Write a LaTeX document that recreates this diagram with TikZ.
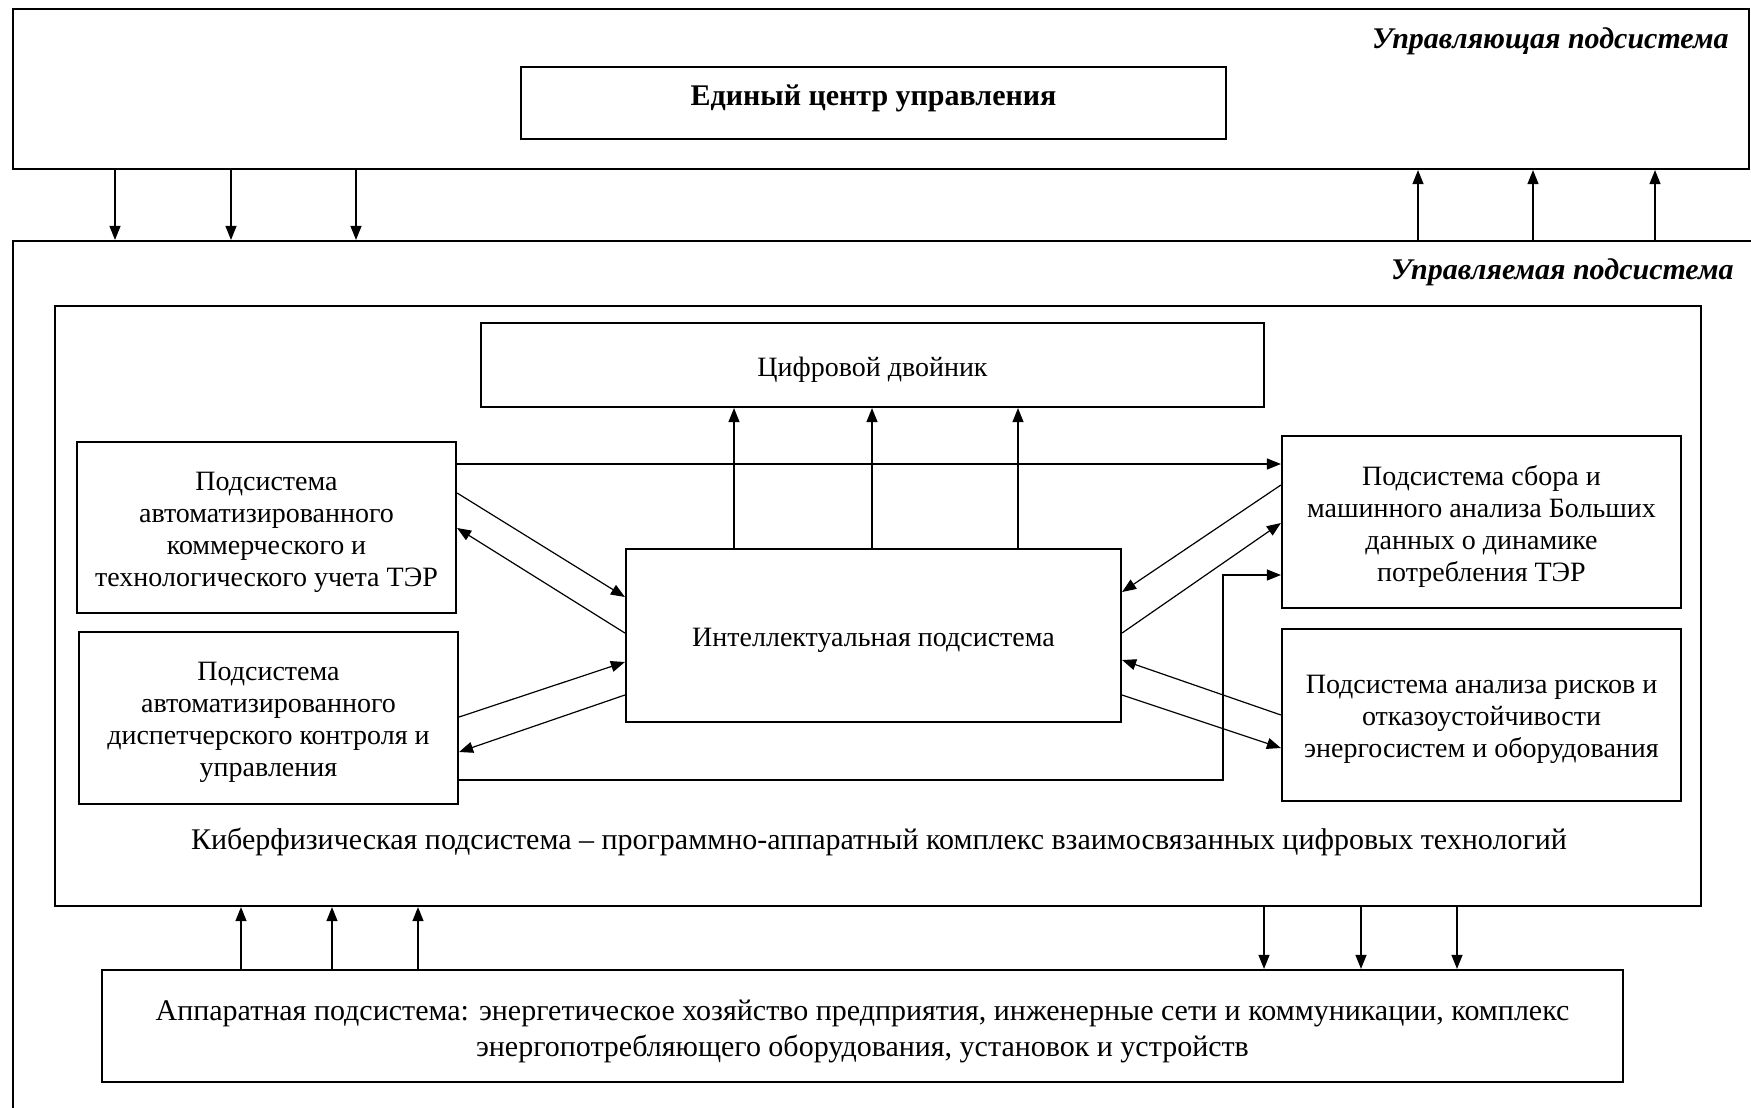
\documentclass[tikz,border=0pt]{standalone}
\usepackage{fontspec}
\setmainfont{Liberation Serif}
\usetikzlibrary{arrows.meta}
\newcommand\tup[1][14pt]{\rule{0pt}{#1}}
\newcommand\tdn{\rule[-8pt]{0pt}{8pt}}
\begin{document}
\begin{tikzpicture}[x=0.5pt,y=-0.5pt,
  box/.style={draw, line width=1.1pt, rectangle, inner sep=0pt, align=center, font=\fontsize{14}{16}\selectfont},
  arr/.style={line width=0.6pt, -{Triangle[length=7pt,width=5.5pt]}},
  lbl/.style={font=\fontsize{15}{18}\selectfont\bfseries\itshape, inner sep=0pt, anchor=east},
  txt/.style={font=\fontsize{15}{18}\selectfont, inner sep=0pt, align=center}]
\useasboundingbox (0,0) rectangle (1751,1108);
\clip (0,0) rectangle (1751,1108);
\fill[white] (0,0) rectangle (1751,1108);

% control subsystem
\node[box, minimum width=868pt, minimum height=80pt] (top) at (881,89) {};
\node[box, minimum width=352.5pt, minimum height=36pt, font=\fontsize{15}{18}\selectfont\bfseries] (ecu) at (873.5,103) {Единый центр управления\tdn};
\node[lbl] (lbl1) at (1729,41) {Управляющая подсистема};

% controlled subsystem
\node[box, minimum width=878.5pt, minimum height=444.5pt] (ctrl) at (891.5,685.5) {};
\node[lbl] (lbl2) at (1734,272) {Управляемая подсистема};

% cyber-physical
\node[box, minimum width=823pt, minimum height=300pt] (cyber) at (878,606) {};
\node[txt] (cybertxt) at (879,842) {Киберфизическая подсистема – программно-аппаратный комплекс взаимосвязанных цифровых технологий};

\node[box, minimum width=391.5pt, minimum height=42pt] (twin) at (872.5,365) {\tup Цифровой двойник};
\node[box, minimum width=189.5pt, minimum height=85.5pt] (lb1) at (266.5,527.5) {\tup Подсистема\\автоматизированного\\коммерческого и\\технологического учета ТЭР};
\node[box, minimum width=189.5pt, minimum height=86pt] (lb2) at (268.5,718) {\tup Подсистема\\автоматизированного\\диспетчерского контроля и\\управления};
\node[box, minimum width=247.5pt, minimum height=86.5pt] (intel) at (873.5,635.5) {\tup Интеллектуальная подсистема};
\node[box, minimum width=199.5pt, minimum height=86pt] (rb1) at (1481.5,522) {\tup Подсистема сбора и\\машинного анализа Больших\\данных о динамике\\потребления ТЭР};
\node[box, minimum width=199.5pt, minimum height=86pt] (rb2) at (1481.5,715) {\tup Подсистема анализа рисков и\\отказоустойчивости\\энергосистем и оборудования};

% hardware
\node[box, minimum width=760.5pt, minimum height=56pt, font=\fontsize{15}{17.9}\selectfont] (hw) at (862.5,1026) {\tup[15.5pt]Аппаратная подсистема: энергетическое хозяйство предприятия, инженерные сети и коммуникации, комплекс\\энергопотребляющего оборудования, установок и устройств};

% x positions of vertical connectors
\coordinate (d1) at (115,0);
\coordinate (d2) at (231,0);
\coordinate (d3) at (356,0);
\coordinate (u1) at (1418,0);
\coordinate (u2) at (1533,0);
\coordinate (u3) at (1655,0);
\coordinate (t1) at (734,0);
\coordinate (t2) at (872,0);
\coordinate (t3) at (1018,0);
\coordinate (h1) at (241,0);
\coordinate (h2) at (332,0);
\coordinate (h3) at (418,0);
\coordinate (g1) at (1264,0);
\coordinate (g2) at (1361,0);
\coordinate (g3) at (1457,0);
\coordinate (bend) at (1223,575);

% top <-> controlled
\foreach \c in {d1,d2,d3} \draw[arr] (top.south -| \c) -- (ctrl.north -| \c);
\foreach \c in {u1,u2,u3} \draw[arr] (ctrl.north -| \c) -- (top.south -| \c);

% intel -> twin
\foreach \c in {t1,t2,t3} \draw[arr] (intel.north -| \c) -- (twin.south -| \c);

% hardware <-> cyber
\foreach \c in {h1,h2,h3} \draw[arr] (hw.north -| \c) -- (cyber.south -| \c);
\foreach \c in {g1,g2,g3} \draw[arr] (cyber.south -| \c) -- (hw.north -| \c);

% horizontal lb1 -> rb1
\draw[arr] ([yshift=31.75pt]lb1.east) -- ([yshift=29pt]rb1.west);

% left side diagonals
\draw[arr] ([yshift=17.25pt]lb1.east) -- ([yshift=19.25pt]intel.west);
\draw[arr] ([yshift=1.25pt]intel.west) -- ([yshift=-0.25pt]lb1.east);
\draw[arr] ([yshift=0.5pt]lb2.east) -- ([yshift=-13.25pt]intel.west);
\draw[arr] ([yshift=-29.75pt]intel.west) -- ([yshift=-17pt]lb2.east);

% right side diagonals
\draw[arr] ([yshift=18.5pt]rb1.west) -- ([yshift=21.75pt]intel.east);
\draw[arr] ([yshift=1.25pt]intel.east) -- ([yshift=-0.5pt]rb1.west);
\draw[arr] (rb2.west) -- ([yshift=-12.25pt]intel.east);
\draw[arr] ([yshift=-29.75pt]intel.east) -- ([yshift=-16.5pt]rb2.west);

% routed lb2 -> rb1
\draw[arr] ([yshift=-31pt]lb2.east) -| (bend) -- (rb1.west |- bend);
\end{tikzpicture}
\end{document}
